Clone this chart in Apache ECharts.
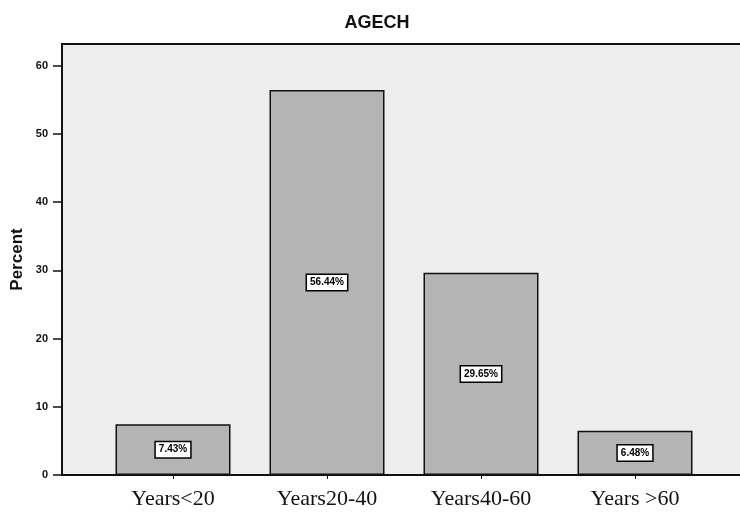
<!DOCTYPE html>
<html><head><meta charset="utf-8">
<script src="https://cdn.jsdelivr.net/npm/echarts@6/dist/echarts.min.js"></script>
<style>html,body{margin:0;padding:0;background:#fff}#c{width:740px;height:513px}</style>
</head><body><div id="c"></div>
<script>
const categories = ['Years<20', 'Years20-40', 'Years40-60', 'Years >60'];
const percentValues = [7.43, 56.44, 29.65, 6.48];
const yTicks = [0, 10, 20, 30, 40, 50, 60];
const yMax = 63.2;

const chart = echarts.init(document.getElementById('c'), null, {renderer: 'canvas'});
chart.setOption({
  animation: false,
  backgroundColor: '#ffffff',
  title: {
    text: 'AGECH', left: 372, top: 9, textAlign: 'center',
    textStyle: {fontFamily: 'Arial', fontWeight: 'bold', fontSize: 18, color: '#111'}
  },
  grid: [
    {left: 96, width: 616, top: 44, bottom: 38, show: false, outerBoundsMode: 'none', containLabel: false},
    {left: 62, top: 44, right: -20, bottom: 38, show: true, outerBoundsMode: 'none', containLabel: false,
     backgroundColor: '#eeeeee', borderColor: '#111', borderWidth: 2, z: 0}
  ],
  xAxis: [
    {type: 'category', gridIndex: 0, data: categories,
     axisLine: {show: true, lineStyle: {color: '#111', width: 2}},
     axisTick: {show: true, alignWithLabel: true, length: 4, lineStyle: {color: '#111'}},
     axisLabel: {fontFamily: 'Liberation Serif', fontSize: 22, color: '#111', margin: 13}},
    {type: 'value', gridIndex: 1, show: false}
  ],
  yAxis: [
    {type: 'value', gridIndex: 0, min: 0, max: yMax, show: false},
    {type: 'value', gridIndex: 1, min: 0, max: yMax, interval: 10,
     name: 'Percent', nameLocation: 'middle', nameGap: 36, nameRotate: 90, nameMoveOverlap: false,
     nameTextStyle: {fontFamily: 'Arial', fontWeight: 'bold', fontSize: 17, color: '#111'},
     axisLine: {show: true, lineStyle: {color: '#111', width: 2}},
     axisTick: {show: true, length: 9, lineStyle: {color: '#111', width: 1.5},
       customValues: yTicks},
     axisLabel: {fontFamily: 'Arial', fontWeight: 'bold', fontSize: 11, color: '#111', margin: 14,
       customValues: yTicks},
     splitLine: {show: false}}
  ],
  series: [{
    type: 'bar', xAxisIndex: 0, yAxisIndex: 0, data: percentValues,
    barWidth: 115, z: 5,
    itemStyle: {color: '#b4b4b4', borderColor: '#111', borderWidth: 1.5},
    label: {show: true, position: 'inside', formatter: '{c}%',
      fontFamily: 'Arial', fontWeight: 'bold', fontSize: 10, color: '#000',
      backgroundColor: '#fff', borderColor: '#000', borderWidth: 1.5, padding: [3, 3, 2, 3]}
  }]
});
</script></body></html>
